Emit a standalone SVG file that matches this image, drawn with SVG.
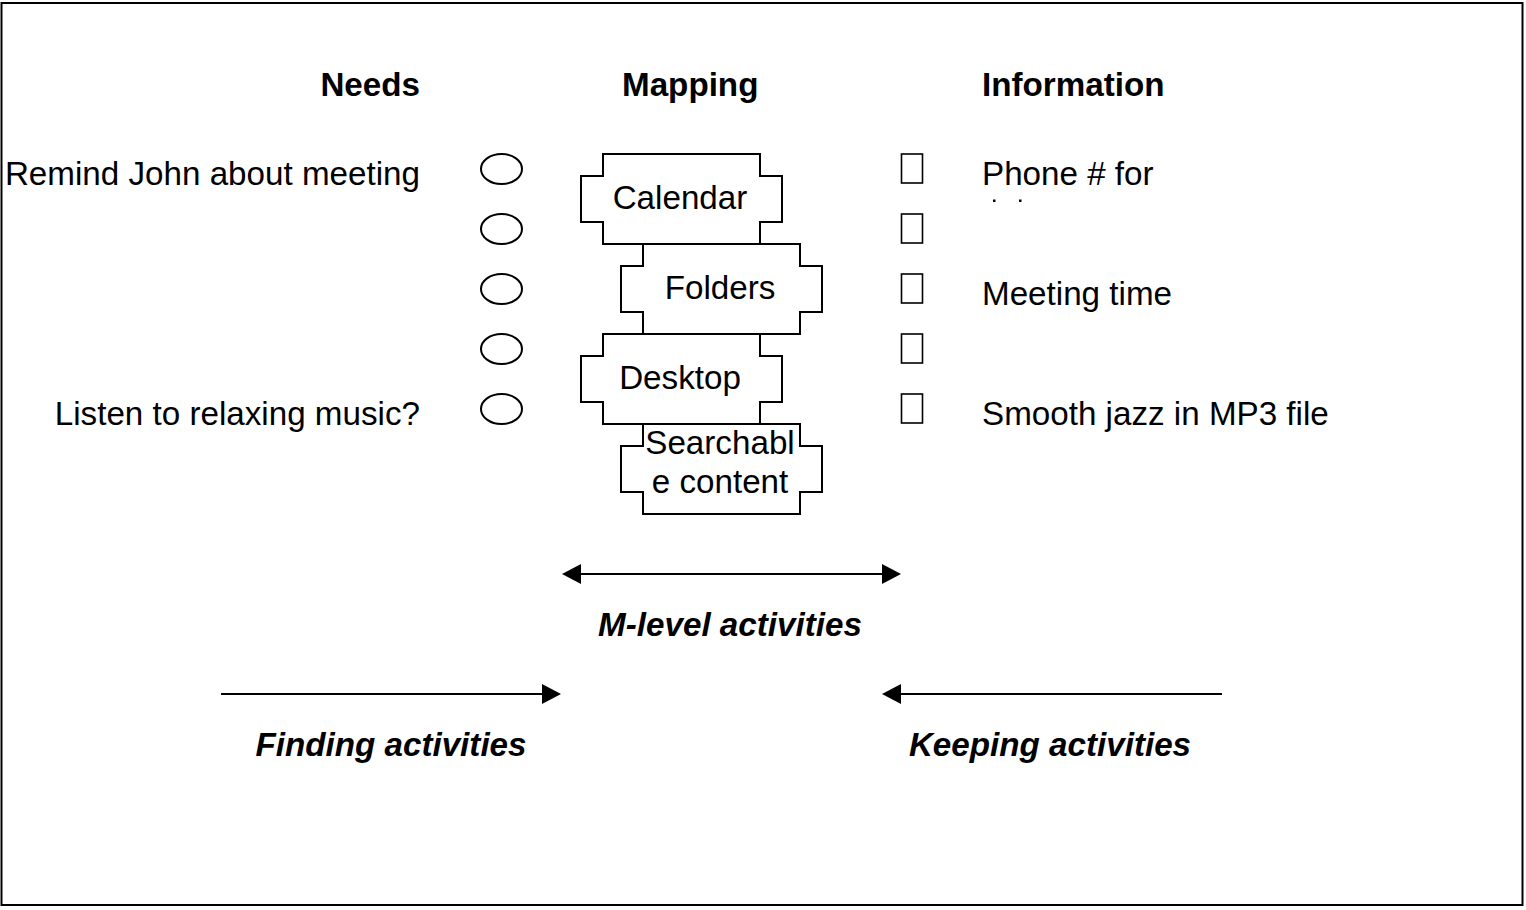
<svg xmlns="http://www.w3.org/2000/svg" width="1526" height="910" viewBox="0 0 1526 910">
<style>
text{font-family:"Liberation Sans",Arial,Helvetica,sans-serif;font-size:33.2px;fill:#000}
.h{font-weight:bold}
.bi{font-weight:bold;font-style:italic}
.plug{fill:#fff;stroke:#000;stroke-width:2}
.oval{fill:#fff;stroke:#000;stroke-width:2}
.box{fill:#fff;stroke:#000;stroke-width:1.6}
.arr{stroke:#000;stroke-width:2;fill:none}
</style>
<defs>
<marker id="ah" markerUnits="userSpaceOnUse" markerWidth="19" markerHeight="20" refX="15" refY="10" orient="auto-start-reverse">
<path d="M0,0 L19,10 L0,20 Z" fill="#000"/>
</marker>
</defs>
<rect x="1.5" y="3" width="1521" height="902" fill="#fff" stroke="#000" stroke-width="2"/>

<g id="headers">
<text class="h" x="420" y="95.5" text-anchor="end">Needs</text>
<text class="h" x="622" y="95.5">Mapping</text>
<text class="h" x="982" y="95.5">Information</text>
</g>

<g id="needs">
<text x="420" y="185" text-anchor="end">Remind John about meeting</text>
<text x="420" y="425" text-anchor="end">Listen to relaxing music?</text>
</g>

<g id="need-ovals">
<ellipse class="oval" cx="501.5" cy="169" rx="20.5" ry="15"/>
<ellipse class="oval" cx="501.5" cy="229" rx="20.5" ry="15"/>
<ellipse class="oval" cx="501.5" cy="289" rx="20.5" ry="15"/>
<ellipse class="oval" cx="501.5" cy="349" rx="20.5" ry="15"/>
<ellipse class="oval" cx="501.5" cy="409" rx="20.5" ry="15"/>
</g>

<g id="calendar">
<path class="plug" d="M603,154 H760 V176 H782 V222 H760 V244 H603 V222 H581 V176 H603 Z"/>
<text x="680" y="208.5" text-anchor="middle">Calendar</text>
</g>
<g id="folders">
<path class="plug" d="M643,244 H800 V266 H822 V312 H800 V334 H643 V312 H621 V266 H643 Z"/>
<text x="720" y="299" text-anchor="middle">Folders</text>
</g>
<g id="desktop">
<path class="plug" d="M603,334 H760 V356 H782 V402 H760 V424 H603 V402 H581 V356 H603 Z"/>
<text x="680" y="389" text-anchor="middle">Desktop</text>
</g>
<g id="searchable">
<path class="plug" d="M643,424 H800 V446 H822 V492 H800 V514 H643 V492 H621 V446 H643 Z"/>
<text x="720" y="454" text-anchor="middle">Searchabl</text>
<text x="720" y="493" text-anchor="middle">e content</text>
</g>

<g id="info-boxes">
<rect class="box" x="901.5" y="154" width="21" height="29"/>
<rect class="box" x="901.5" y="214" width="21" height="29"/>
<rect class="box" x="901.5" y="274" width="21" height="29"/>
<rect class="box" x="901.5" y="334" width="21" height="29"/>
<rect class="box" x="901.5" y="394" width="21" height="29"/>
</g>

<g id="information">
<text x="982" y="185">Phone # for</text>
<rect x="993" y="199.5" width="2.5" height="2.5" fill="#000"/>
<rect x="1019" y="199.5" width="2.5" height="2.5" fill="#000"/>
<text x="982" y="305">Meeting time</text>
<text x="982" y="425">Smooth jazz in MP3 file</text>
</g>

<g id="connectors">
<line class="arr" x1="566" y1="574" x2="897" y2="574" marker-start="url(#ah)" marker-end="url(#ah)"/>
<line class="arr" x1="221" y1="694" x2="557" y2="694" marker-end="url(#ah)"/>
<line class="arr" x1="1222" y1="694" x2="886" y2="694" marker-end="url(#ah)"/>
</g>

<g id="labels">
<text class="bi" x="730" y="636" text-anchor="middle">M-level activities</text>
<text class="bi" x="391" y="756" text-anchor="middle">Finding activities</text>
<text class="bi" x="1050" y="756" text-anchor="middle">Keeping activities</text>
</g>
</svg>
